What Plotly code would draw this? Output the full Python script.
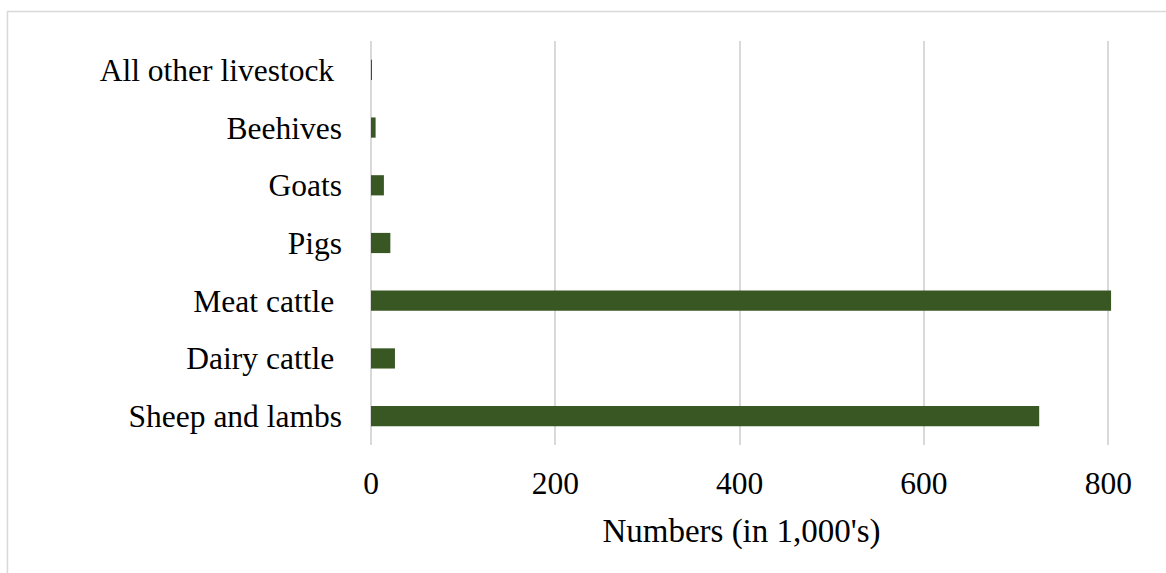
import plotly.graph_objects as go

# Livestock numbers, bottom to top as drawn
categories = [
    "Sheep and lambs",
    "Dairy cattle\u00a0",
    "Meat cattle\u00a0",
    "Pigs",
    "Goats",
    "Beehives",
    "All other livestock\u00a0",
]
numbers = [725, 26, 803, 21, 14, 5, 1]
x_ticks = [0, 200, 400, 600, 800]

BAR_COLOR = "#385723"
GRID_COLOR = "#d9d9d9"
FONT = "Liberation Serif, Times New Roman, serif"

fig = go.Figure(
    go.Bar(
        x=numbers,
        y=categories,
        orientation="h",
        width=0.35,
        marker=dict(color=BAR_COLOR, line=dict(width=0)),
        hoverinfo="x+y",
    )
)

# light grey chart border, as in the spreadsheet export
fig.add_shape(
    type="rect",
    xref="paper", yref="paper",
    x0=-0.4906, x1=1.3, y0=-0.5, y1=1.073,
    line=dict(color=GRID_COLOR, width=1.5),
    layer="below",
)

fig.update_layout(
    width=1166,
    height=573,
    margin=dict(l=371, r=54, t=41, b=128),
    paper_bgcolor="white",
    plot_bgcolor="white",
    font=dict(family=FONT, size=31.5, color="black"),
    showlegend=False,
)
fig.update_xaxes(
    range=[0, 804],
    tickvals=x_ticks,
    showgrid=True,
    gridcolor=GRID_COLOR,
    gridwidth=1.5,
    zeroline=True,
    zerolinecolor=GRID_COLOR,
    zerolinewidth=1.5,
    showline=False,
    ticks="",
    ticklabelstandoff=16,
    title=dict(text="Numbers (in 1,000's)", standoff=19,
               font=dict(family=FONT, size=33)),
)
fig.update_yaxes(
    showgrid=False,
    showline=False,
    ticks="",
    ticklabelstandoff=28,
)

# drop the default body margin so the figure fills the window exactly
fig.write_html(
    "out.html",
    config={"displayModeBar": False},
    post_script="document.body.style.margin='0';document.body.style.overflow='hidden';",
)
